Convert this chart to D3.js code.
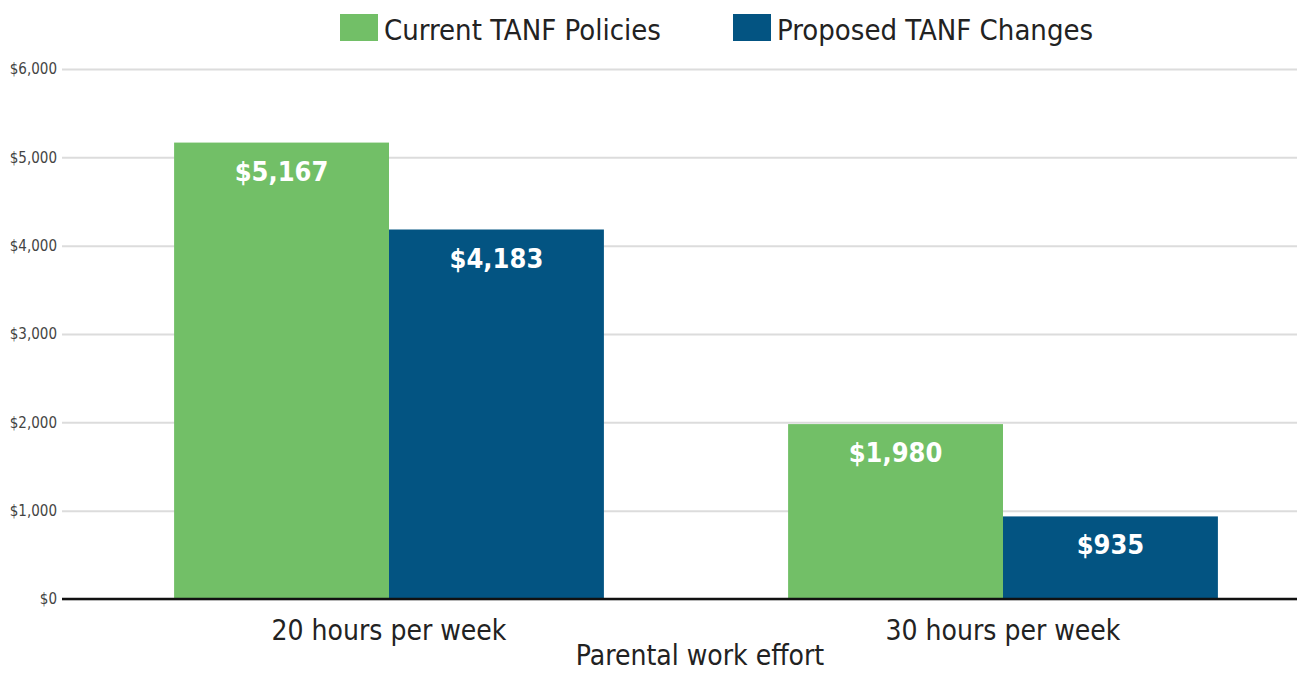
<!DOCTYPE html>
<html>
<head>
<meta charset="utf-8">
<script src="https://cdn.jsdelivr.net/npm/d3@7"></script>
<style>
  body { margin: 0; background: #fff; }
  text { font-family: "Liberation Sans Narrow", "DejaVu Sans Condensed", "Liberation Sans", sans-serif; }
</style>
</head>
<body>
<div id="chart"></div>
<script>
var categories = ["20 hours per week", "30 hours per week"];
var seriesNames = ["Current TANF Policies", "Proposed TANF Changes"];
var currentValues = [5167, 1980];
var proposedValues = [4183, 935];
var yTicks = [0, 1000, 2000, 3000, 4000, 5000, 6000];
var colors = ["#72bf67", "#035482"];

var width = 1297;
var height = 673;

var svg = d3.select("#chart")
  .append("svg")
  .attr("width", width)
  .attr("height", height);

var y = d3.scaleLinear().domain([0, 6000]).range([599, 69]);

var x0 = d3.scaleBand()
  .domain(categories)
  .range([82, 1310])
  .paddingInner(0.3)
  .paddingOuter(0.15);

var x1 = d3.scaleBand()
  .domain(seriesNames)
  .range([0, x0.bandwidth()]);

// gridlines + tick labels
var yAxis = svg.append("g")
  .attr("transform", "translate(62,0)")
  .call(d3.axisLeft(y)
    .tickValues(yTicks)
    .tickSize(-(width - 62))
    .tickPadding(5)
    .tickFormat(function(d) { return "$" + d3.format(",")(d); }));
yAxis.select(".domain").remove();
yAxis.selectAll(".tick line").attr("stroke", "#dcdcdc").attr("stroke-width", 2);
yAxis.selectAll(".tick text")
  .attr("fill", "#444")
  .style("font-size", "15px");

var rows = categories.map(function(c, i) {
  return { cat: c, vals: [currentValues[i], proposedValues[i]] };
});

var groups = svg.selectAll(".grp")
  .data(rows)
  .enter().append("g")
  .attr("transform", function(d) { return "translate(" + x0(d.cat) + ",0)"; });

groups.selectAll("rect")
  .data(function(d) { return d.vals.map(function(v, j) { return { s: seriesNames[j], v: v, j: j }; }); })
  .enter().append("rect")
  .attr("x", function(d) { return x1(d.s); })
  .attr("y", function(d) { return y(d.v); })
  .attr("width", x1.bandwidth())
  .attr("height", function(d) { return y(0) - y(d.v); })
  .attr("fill", function(d) { return colors[d.j]; });

groups.selectAll(".val")
  .data(function(d) { return d.vals.map(function(v, j) { return { s: seriesNames[j], v: v }; }); })
  .enter().append("text")
  .attr("class", "val")
  .attr("x", function(d) { return x1(d.s) + x1.bandwidth() / 2; })
  .attr("y", function(d) { return y(d.v) + 38; })
  .attr("text-anchor", "middle")
  .attr("fill", "#fff")
  .style("font-size", "27px")
  .style("font-weight", "bold")
  .text(function(d) { return "$" + d3.format(",")(d.v); });

// x axis baseline
svg.append("line")
  .attr("x1", 62).attr("x2", width)
  .attr("y1", y(0)).attr("y2", y(0))
  .attr("stroke", "#111")
  .attr("stroke-width", 2.5);

// category labels
svg.selectAll(".cat")
  .data(categories)
  .enter().append("text")
  .attr("x", function(d) { return x0(d) + x0.bandwidth() / 2; })
  .attr("y", 640)
  .attr("text-anchor", "middle")
  .attr("fill", "#222")
  .style("font-size", "28px")
  .text(function(d) { return d; });

svg.append("text")
  .attr("x", 700)
  .attr("y", 665)
  .attr("text-anchor", "middle")
  .attr("fill", "#222")
  .style("font-size", "28px")
  .text("Parental work effort");

// legend
var legendX = [340, 733];
var legend = svg.selectAll(".leg")
  .data(seriesNames)
  .enter().append("g")
  .attr("transform", function(d, i) { return "translate(" + legendX[i] + ",14)"; });
legend.append("rect")
  .attr("width", 38).attr("height", 27)
  .attr("fill", function(d, i) { return colors[i]; });
legend.append("text")
  .attr("x", 44)
  .attr("y", 26)
  .attr("fill", "#222")
  .style("font-size", "29px")
  .text(function(d) { return d; });
</script>
</body>
</html>
